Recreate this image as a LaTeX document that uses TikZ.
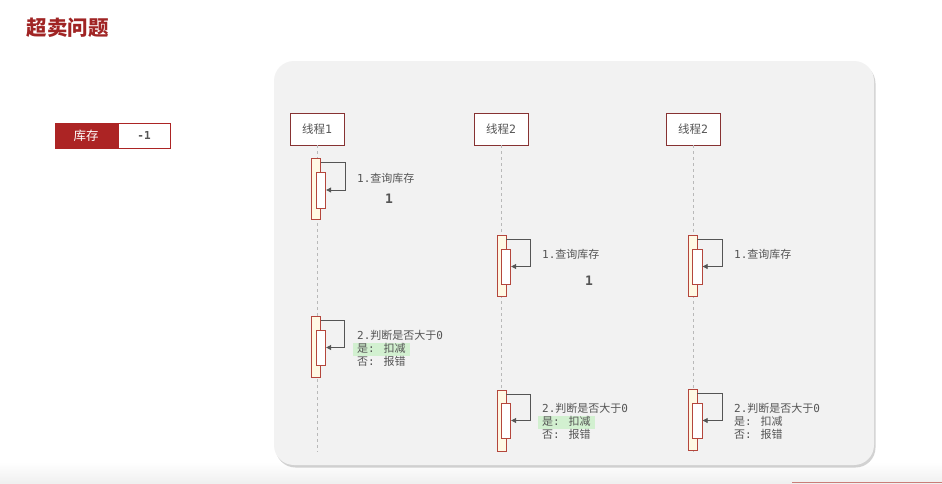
\documentclass[tikz,border=0pt]{standalone}
\usepackage{fontspec}
\setmainfont{Noto Sans CJK SC}
\newfontfamily\monofont{DejaVu Sans Mono}
\newcommand{\mn}[1]{{\monofont #1}}
\usepackage{xcolor}
\usepackage{tikz}
\usetikzlibrary{arrows.meta,calc,positioning,shadows}
\definecolor{titlered}{RGB}{160,36,36}
\definecolor{boxred}{RGB}{172,36,36}
\definecolor{linered}{RGB}{135,50,50}
\definecolor{barred}{RGB}{180,70,60}
\definecolor{barfill}{RGB}{255,249,228}
\definecolor{panelgray}{RGB}{242,242,242}
\definecolor{textgray}{RGB}{85,85,85}
\definecolor{hlgreen}{RGB}{210,240,208}
\tikzset{
  header/.style={draw=linered,thick,fill=white,minimum width=54pt,minimum height=32pt,
    font=\fontsize{11.5}{13}\selectfont,text=textgray},
  lifeline/.style={dashed,gray!55,thick},
  actbar/.style={draw=barred,thick,fill=barfill,minimum width=9pt,minimum height=#1,inner sep=0pt},
  subbar/.style={draw=barred,thick,fill=white,minimum width=9.5pt,minimum height=#1,inner sep=0pt},
  selfmsg/.style={draw=textgray,thick,-{Triangle[length=5pt,width=5pt]}},
  note/.style={anchor=west,inner xsep=1pt,inner ysep=1.5pt,text height=8pt,text depth=2pt,
    text=textgray,font=\fontsize{11}{12}\selectfont},
  hl/.style={note,fill=hlgreen,inner xsep=4pt},
  value/.style={text=textgray,font=\fontsize{13}{15}\monofont\bfseries}
}
\begin{document}
\begin{tikzpicture}[x=1pt,y=-1pt]
  \useasboundingbox[fill=white] (0,0) rectangle (942,483);
  \shade[top color=white,bottom color=gray!12] (0,462) rectangle (942,483);
  \draw[barred!70,thick] (792,482) -- (942,482);

  % title and stock
  \node[anchor=west,text=titlered,font=\fontsize{20.5}{24}\selectfont\bfseries] (title) at (23,28) {超卖问题};
  \node[draw=boxred,thick,fill=white,minimum width=52pt,minimum height=25pt,
        font=\fontsize{11}{13}\monofont\bfseries,text=textgray,drop shadow={opacity=0.25,shadow xshift=1pt,shadow yshift=-1pt}] (stockval) at (144,135.5) {-1};
  \node[fill=boxred,draw=boxred,thick,minimum width=62pt,minimum height=25pt,
        text=white,font=\fontsize{12.5}{14}\selectfont,left=0pt of stockval] (stock) {库存};

  % panel
  \fill[panelgray,rounded corners=20pt,drop shadow={opacity=0.35,shadow xshift=1.5pt,shadow yshift=-2.5pt}]
    (274,61) rectangle (874,465);

  % lifelines
  \foreach \n/\x/\lab in {t1/317/1,t2/501/2,t3/693/2} {
    \node[header] (\n) at (\x,129) {线程\mn{\lab}};
    \draw[lifeline] (\n.south) -- (\x,452);
  }

  % thread 1
  \node[actbar=61pt] (a1) at (316,188.5) {};
  \node[subbar=36pt] (b1) at (321,190) {};
  \draw[selfmsg] ([yshift=-5pt]a1.north east) -- ++(24,0) |- (b1.east);
  \node[note] (q1) at (356,179) {\mn{1.}查询库存};
  \node[value] (v1) at (389,199) {1};

  \node[actbar=61pt] (a2) at (316,346.5) {};
  \node[subbar=35pt] (b2) at (321,347.5) {};
  \draw[selfmsg] ([yshift=-5pt]a2.north east) -- ++(23,0) |- (b2.east);
  \node[note] (j1) at (356,336) {\mn{2.}判断是否大于\mn{0}};
  \node[hl] (y1) at (353,349) {是\mn{: }扣减};
  \node[note] (e1) at (356,362) {否\mn{: }报错};

  % thread 2
  \node[actbar=61pt] (a3) at (501.5,265.5) {};
  \node[subbar=35pt] (b3) at (506,266.5) {};
  \draw[selfmsg] ([yshift=-5pt]a3.north east) -- ++(24,0) |- (b3.east);
  \node[note] (q2) at (541,255) {\mn{1.}查询库存};
  \node[value] (v2) at (589,281) {1};

  \node[actbar=61pt] (a4) at (501.5,420.5) {};
  \node[subbar=35pt] (b4) at (506,420.5) {};
  \draw[selfmsg] ([yshift=-5pt]a4.north east) -- ++(24,0) |- (b4.east);
  \node[note] (j2) at (541,409) {\mn{2.}判断是否大于\mn{0}};
  \node[hl] (y2) at (538,422) {是\mn{: }扣减};
  \node[note] (e2) at (541,435) {否\mn{: }报错};

  % thread 3
  \node[actbar=61pt] (a5) at (692.5,265.5) {};
  \node[subbar=35pt] (b5) at (697.5,266.5) {};
  \draw[selfmsg] ([yshift=-5pt]a5.north east) -- ++(25,0) |- (b5.east);
  \node[note] (q3) at (733,255) {\mn{1.}查询库存};

  \node[actbar=61pt] (a6) at (692.5,419.5) {};
  \node[subbar=35pt] (b6) at (697.5,420.5) {};
  \draw[selfmsg] ([yshift=-5pt]a6.north east) -- ++(25,0) |- (b6.east);
  \node[note] (j3) at (733,409) {\mn{2.}判断是否大于\mn{0}};
  \node[note] (y3) at (733,422) {是\mn{: }扣减};
  \node[note] (e3) at (733,435) {否\mn{: }报错};
\end{tikzpicture}
\end{document}
